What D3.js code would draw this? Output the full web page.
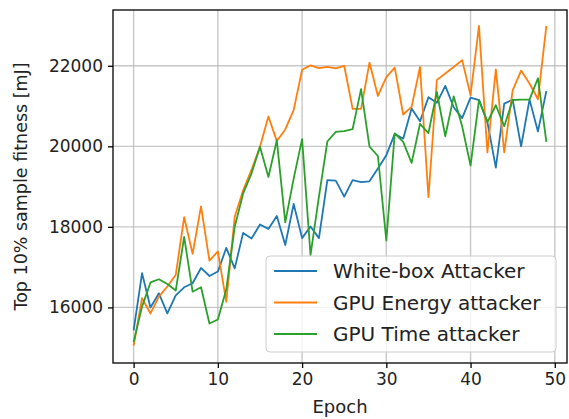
<!DOCTYPE html>
<html>
<head>
<meta charset="utf-8">
<script src="https://cdn.jsdelivr.net/npm/d3@7"></script>
<style>
  body { margin: 0; background: #fff; }
  svg { font-family: "DejaVu Sans", sans-serif; }
</style>
</head>
<body>
<svg id="svg_main" width="569" height="419"></svg>
<script>

// values
const epochs = d3.range(0, 50);
const seriesNames = ["White-box Attacker", "GPU Energy attacker", "GPU Time attacker"];
const whiteBox = [15430, 16850, 16000, 16350, 15850, 16300, 16500, 16600, 16980, 16780,
    16890, 17480, 16970, 17850, 17710, 18060, 17950, 18270, 17550, 18570,
    17720, 18010, 17720, 19160, 19150, 18750, 19160, 19110, 19130, 19450,
    19780, 20310, 20190, 20940, 20620, 21220, 21080, 21500, 20970, 20700,
    21210, 21150, 20600, 19470, 21060, 21160, 20000, 21160, 20370, 21370];
const gpuEnergy = [15050, 16230, 15850, 16270, 16520, 16810, 18240, 17330, 18510, 17160,
    17390, 16140, 18250, 18910, 19420, 19990, 20740, 20130, 20420, 20900,
    21900, 22010, 21940, 21975, 21935, 22000, 20930, 20930, 22080, 21250,
    21720, 21955, 20790, 20980, 21970, 18740, 21650, 21810, 21970, 22140,
    21270, 22990, 19850, 21910, 19850, 21390, 21880, 21560, 21170, 22990];
const gpuTime = [15140, 16020, 16620, 16700, 16580, 16420, 17750, 16390, 16500, 15600,
    15700, 16450, 18000, 18830, 19330, 19990, 19240, 20150, 18110, 19200,
    20180, 17300, 18750, 20120, 20360, 20380, 20430, 21420, 19990, 19760,
    17660, 20320, 20110, 19590, 20560, 20330, 21350, 20250, 21240, 20500,
    19520, 21150, 20600, 21020, 20500, 21150, 21160, 21160, 21690, 20110];
const colors = ["#1f77b4", "#ff7f0e", "#2ca02c"];
const xTicks = [0, 10, 20, 30, 40, 50];
const yTicks = [16000, 18000, 20000, 22000];

draw(d3.select("#svg_main"));

function draw(svg){
    const L = 113, R = 567, T = 10, B = 363;

    const x = d3.scaleLinear().domain([-2.45, 51.45]).range([L, R]);
    const y = d3.scaleLinear().domain([14620, 23385]).range([B, T]);

    // grid
    const grid = svg.append("g").attr("stroke", "#b0b0b0").attr("stroke-opacity", 0.7).attr("stroke-width", 1.4);
    grid.selectAll(".gx").data(xTicks).enter().append("line")
        .attr("x1", d => x(d)).attr("x2", d => x(d)).attr("y1", T).attr("y2", B);
    grid.selectAll(".gy").data(yTicks).enter().append("line")
        .attr("x1", L).attr("x2", R).attr("y1", d => y(d)).attr("y2", d => y(d));

    // lines
    const line = d3.line().x((d, i) => x(epochs[i])).y(d => y(d));
    [whiteBox, gpuEnergy, gpuTime].forEach((s, k) => {
        svg.append("path").datum(s)
            .attr("d", line)
            .attr("fill", "none")
            .attr("stroke", colors[k])
            .attr("stroke-width", 1.8)
            .attr("stroke-linejoin", "round");
    });

    // axes
    const xAxis = svg.append("g").attr("transform", "translate(0," + B + ")")
        .call(d3.axisBottom(x).tickValues(xTicks).tickSize(5).tickPadding(5));
    const yAxis = svg.append("g").attr("transform", "translate(" + L + ",0)")
        .call(d3.axisLeft(y).tickValues(yTicks).tickFormat(d3.format("d")).tickSize(5).tickPadding(5));
    [xAxis, yAxis].forEach(a => {
        a.select(".domain").remove();
        a.selectAll("line").attr("stroke", "#000").attr("stroke-width", 1.3);
        a.selectAll("text").attr("font-size", 17).attr("fill", "#222").attr("font-family", "DejaVu Sans");
    });

    // frame
    svg.append("rect").attr("x", L).attr("y", T).attr("width", R - L).attr("height", B - T)
        .attr("fill", "none").attr("stroke", "#000").attr("stroke-width", 1.3);

    // labels
    svg.append("text").attr("x", (L + R) / 2).attr("y", 413)
        .attr("text-anchor", "middle").attr("font-size", 18).attr("fill", "#222").text("Epoch");
    svg.append("text").attr("transform", "translate(27," + ((T + B) / 2) + ") rotate(-90)")
        .attr("text-anchor", "middle").attr("font-size", 17.5).attr("fill", "#222")
        .text("Top 10% sample fitness [mJ]");

    // legend
    const lg = svg.append("g").attr("transform", "translate(266,256)");
    lg.append("rect").attr("width", 290).attr("height", 96).attr("rx", 4)
        .attr("fill", "#fff").attr("fill-opacity", 0.8).attr("stroke", "#ccc").attr("stroke-width", 1);
    seriesNames.forEach((n, i) => {
        const yy = 15 + i * 31.5;
        lg.append("line").attr("x1", 8).attr("x2", 51).attr("y1", yy).attr("y2", yy)
            .attr("stroke", colors[i]).attr("stroke-width", 1.8);
        lg.append("text").attr("x", 67).attr("y", yy + 7)
            .attr("font-size", 20).attr("fill", "#222").text(n);
    });
}
</script>
</body>
</html>
